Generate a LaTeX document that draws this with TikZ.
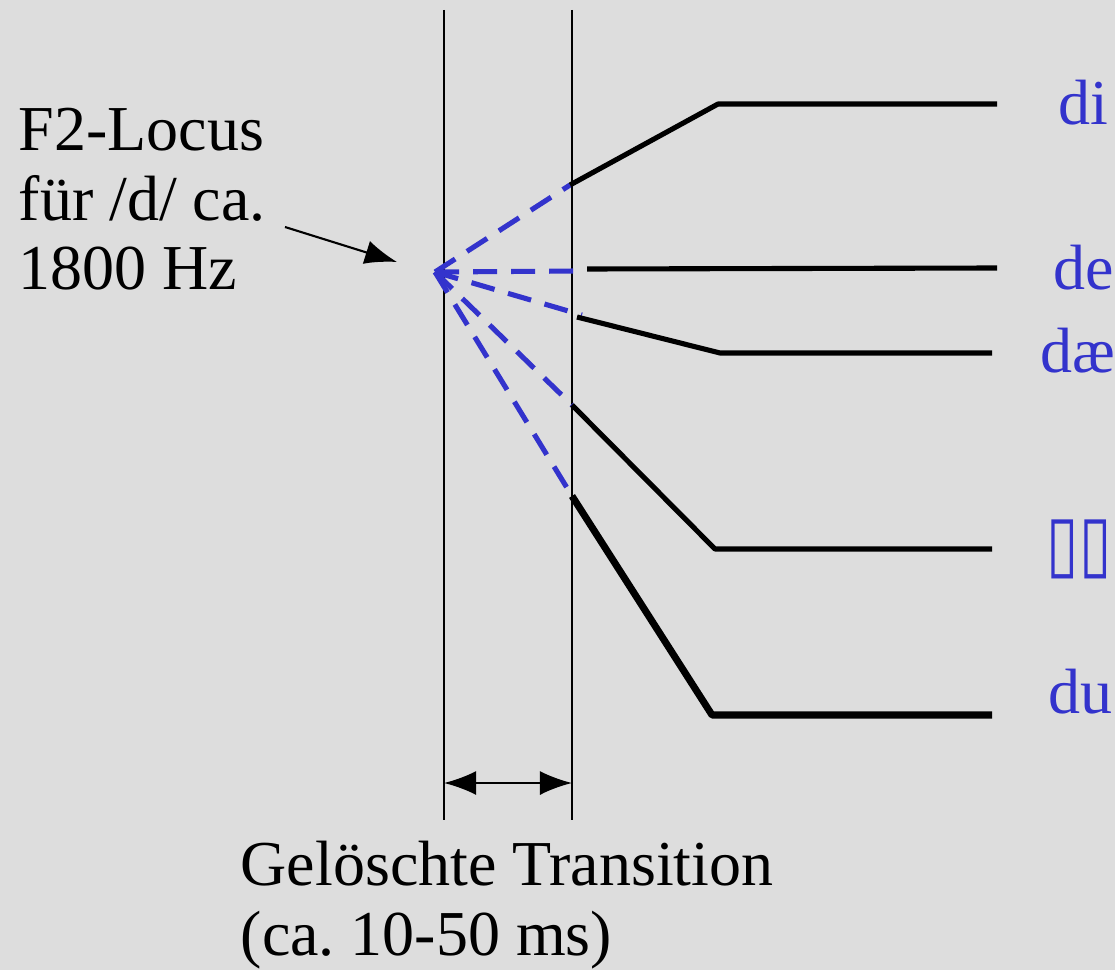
\documentclass[tikz,border=0pt]{standalone}
\usepackage{fontspec}
\setmainfont{Liberation Serif}
\newfontfamily\boxfont[FakeStretch=0.76]{DejaVu Sans}
\usetikzlibrary{arrows.meta,positioning}
\definecolor{slideBack}{HTML}{DDDDDD}
\definecolor{slideBlue}{HTML}{3333CC}
\frenchspacing

\begin{document}
\begin{tikzpicture}[
  x=0.01cm,y=-0.01cm,
  font=\fontsize{18.2}{19.9}\selectfont,
  marker/.style={line width=0.6pt,black},
  formant/.style={line width=1.45pt,black,line join=round},
  trans/.style={line width=1.45pt,slideBlue,dash pattern=on 2.4mm off 1.4mm},
  vowel/.style={text=slideBlue,anchor=base west,inner sep=0pt},
  note/.style={anchor=base west,inner sep=0pt,align=left},
  arr/.style={-{Latex[length=3.2mm,width=2.4mm]},line width=0.6pt},
  dim/.style={{Latex[length=3.2mm,width=2.4mm]}-{Latex[length=3.2mm,width=2.4mm]},line width=0.6pt}
]
  \useasboundingbox[fill=slideBack] (0,0) rectangle (1115,970);

  % boundaries of the deleted transition
  \coordinate (leftTop) at (444,10);
  \coordinate (leftBot) at (444,820);
  \coordinate (rightTop) at (572,10);
  \coordinate (rightBot) at (572,820);
  \draw[marker] (leftTop) -- (leftBot);
  \draw[marker] (rightTop) -- (rightBot);
  \coordinate (dimL) at (444,783);
  \coordinate (dimR) at (572,783);
  \draw[dim] (dimL) -- (dimR);

  % locus
  \coordinate (locus) at (435,272);
  \node[note] (locText) at (18,290) {F2-Locus\\f\"ur /d/ ca.\\1800 Hz};
  \coordinate (locArrS) at (285,227);
  \coordinate (locArrE) at (397,262);
  \draw[arr] (locArrS) -- (locArrE);

  % onsets, knees and ends of the formants
  \coordinate (diOn) at (570,185);   \coordinate (diKnee) at (718,104);  \coordinate (diEnd) at (997,104);
  \coordinate (deDash) at (578,271); \coordinate (deOn) at (587,269);    \coordinate (deEnd) at (997,268);
  \coordinate (daeDash) at (582,315);\coordinate (daeOn) at (577,317);   \coordinate (daeKnee) at (720,353); \coordinate (daeEnd) at (992,353);
  \coordinate (oOn) at (572,405);    \coordinate (oKnee) at (715,549);   \coordinate (oEnd) at (992,549);
  \coordinate (duOn) at (572,496);   \coordinate (duKnee) at (712,715);  \coordinate (duEnd) at (992,715);

  % virtual transitions
  \draw[trans] (locus) -- (diOn);
  \draw[trans] (locus) -- (deDash);
  \draw[trans] (locus) -- (daeDash);
  \draw[trans] (locus) -- (oOn);
  \draw[trans] (locus) -- (duOn);

  % formants
  \draw[formant] (diOn) -- (diKnee) -- (diEnd);
  \draw[formant] (deOn) -- (deEnd);
  \draw[formant] (daeOn) -- (daeKnee) -- (daeEnd);
  \draw[formant] (oOn) -- (oKnee) -- (oEnd);
  \draw[formant,line width=2pt] (duOn) -- (duKnee) -- (duEnd);

  \node[vowel] (di) at (1058,125) {di};
  \node[vowel] (de) at (1053,290) {de};
  \node[vowel] (dae) at (1040,372) {d\ae};
  \node[vowel,font=\boxfont\fontsize{22}{24}\selectfont] (dO) at (1046,569) {▯▯};
  \node[vowel] (du) at (1048,713) {du};

  \node[note] (caption) at (240,955) {Gel\"oschte Transition\\(ca. 10-50 ms)};
\end{tikzpicture}
\end{document}
